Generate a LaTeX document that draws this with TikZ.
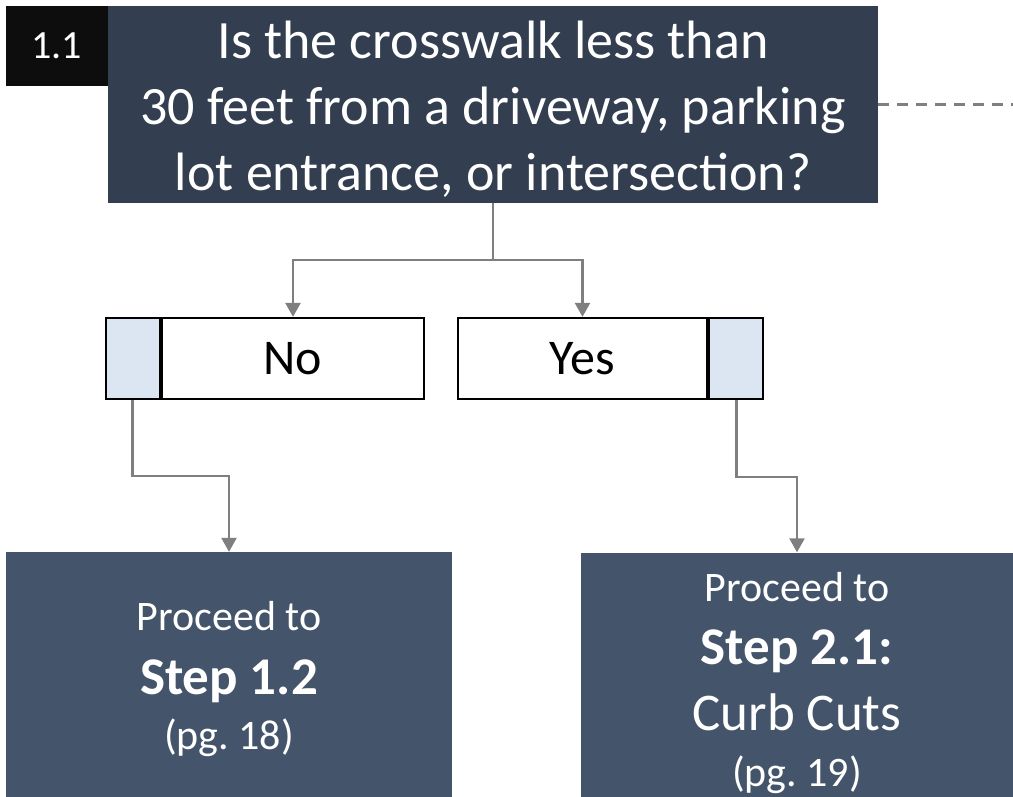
\documentclass[tikz,border=0pt]{standalone}
\usepackage{fontspec}
\setmainfont{Carlito}
\usepackage{xcolor}
\usetikzlibrary{arrows.meta,positioning}

\definecolor{qdark}{HTML}{333F50}
\definecolor{tagblack}{HTML}{0D0D0D}
\definecolor{goslate}{HTML}{44546A}
\definecolor{stripblue}{HTML}{DCE6F2}
\definecolor{linegray}{HTML}{7F7F7F}

\begin{document}
\frenchspacing
\begin{tikzpicture}[
    x=1pt, y=-1pt,
    question/.style={rectangle, fill=qdark, text=white, inner sep=0pt, align=center, minimum width=770pt, minimum height=197pt, font=\fontsize{54}{66}\selectfont},
    tag/.style={rectangle, fill=tagblack, text=white, inner sep=0pt, minimum width=102pt, minimum height=80pt, font=\fontsize{40}{48}\selectfont},
    answer/.style={rectangle, draw=black, line width=2.3pt, fill=white, inner sep=0pt, minimum height=81pt, font=\fontsize{50}{60}\selectfont},
    strip/.style={answer, fill=stripblue, minimum width=54pt},
    goto/.style={rectangle, fill=goslate, text=white, inner sep=0pt, align=center, font=\fontsize{42}{52}\selectfont},
    arrow/.style={-{Triangle[width=15pt,length=14pt]}, line width=2.5pt, draw=linegray}
]

\clip (0,0) rectangle (1013,797);

% Question
\node[question] (q) at (493,104.5) {\rule{0pt}{46pt}Is the crosswalk less than\\30 feet from a driveway, parking\\lot entrance, or intersection?};
\node[tag, anchor=north east] (tag) at (q.north west) {1.1};

% Answers
\node[answer, minimum width=262pt] (no) at (293,358.5) {No};
\node[strip, left=0pt of no] (nostrip) {};
\node[answer, minimum width=249pt] (yes) at (582.5,358.5) {Yes};
\node[strip, right=0pt of yes] (yesstrip) {};

% Next steps (boxes run past the bottom edge, clipped)
\node[goto, minimum width=446pt, minimum height=254pt] (step12) at (229,679) {Proceed to\\[12pt]{\bfseries\fontsize{53}{64}\selectfont Step 1.2}\\[3pt](pg. 18)};
\node[goto, minimum width=432pt, minimum height=262pt] (step21) at (797,683.5) {Proceed to\\[11pt]{\bfseries\fontsize{53}{64}\selectfont Step 2.1:}\\[14pt]{\fontsize{53}{64}\selectfont Curb Cuts}\\[4pt](pg. 19)};

% Dashed lead-out
\coordinate (dashend) at (1013,104.5);
\draw[linegray, line width=2.5pt, dash pattern=on 11pt off 8pt] (q.east) -- (dashend);

% Arrows from question to answers
\draw[arrow] (q.south) -- ++(0,57) -| (no.north);
\draw[arrow] (q.south) -- ++(0,57) -| (yes.north);

% Arrows from answers to next steps
\draw[arrow] (nostrip.south) -- ++(0,76) -| (step12.north);
\draw[arrow] (yesstrip.south) -- ++(0,77) -| (step21.north);

\end{tikzpicture}
\end{document}
